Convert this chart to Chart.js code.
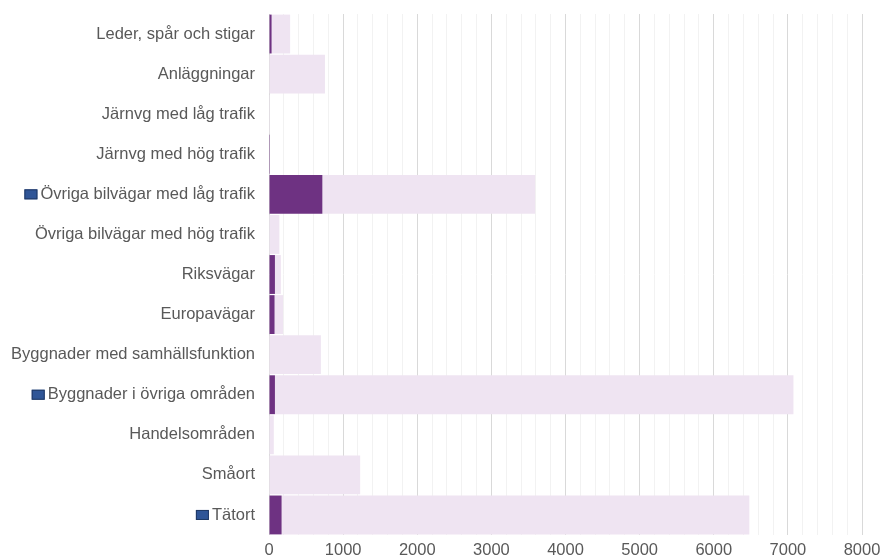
<!DOCTYPE html>
<html>
<head>
<meta charset="utf-8">
<script src="https://cdn.jsdelivr.net/npm/chart.js@4"></script>
<style>
  html, body { margin: 0; padding: 0; background: #ffffff; }
  #ram { width: 882px; height: 560px; }
</style>
</head>
<body>
<div id="ram"><canvas id="graf"></canvas></div>
<script>
const kategorier = [
  'Leder, spår och stigar',
  'Anläggningar',
  'Järnvg med låg trafik',
  'Järnvg med hög trafik',
  'Övriga bilvägar med låg trafik',
  'Övriga bilvägar med hög trafik',
  'Riksvägar',
  'Europavägar',
  'Byggnader med samhällsfunktion',
  'Byggnader i övriga områden',
  'Handelsområden',
  'Småort',
  'Tätort'
];
const morkSerie = [35, 0, 0, 12, 720, 0, 80, 75, 0, 80, 0, 0, 170];
const ljusSerie = [250, 755, 12, 0, 2870, 140, 80, 115, 700, 6995, 65, 1230, 6310];
const markerade = ['Övriga bilvägar med låg trafik', 'Byggnader i övriga områden', 'Tätort'];
const xTicks = [0, 1000, 2000, 3000, 4000, 5000, 6000, 7000, 8000];

const corTexto = '#595959';
const fonte = { family: 'Liberation Sans, Arial, sans-serif', size: 16.5 };

const markorer = {
  id: 'markorer',
  afterDraw(chart) {
    const y = chart.scales.y;
    const c = chart.ctx;
    c.save();
    c.font = `${fonte.size}px ${fonte.family}`;
    kategorier.forEach((namn, i) => {
      if (!markerade.includes(namn)) return;
      const hoger = y.right - y.options.ticks.padding;
      const w = c.measureText(namn).width;
      const yc = y.getPixelForValue(i);
      const x0 = hoger - w - 16;
      c.fillStyle = '#2F5597';
      c.strokeStyle = '#1F3864';
      c.lineWidth = 1;
      c.fillRect(x0, yc - 5, 13, 10);
      c.strokeRect(x0 + 0.5, yc - 4.5, 12, 9);
    });
    c.restore();
  }
};

new Chart(document.getElementById('graf').getContext('2d'), {
  type: 'bar',
  data: {
    labels: kategorier,
    datasets: [{
      label: 'Serie 1',
      data: morkSerie,
      backgroundColor: '#6E3282',
      borderWidth: 0,
      categoryPercentage: 1,
      barPercentage: 0.97
    }, {
      label: 'Serie 2',
      data: ljusSerie,
      backgroundColor: '#EFE4F2',
      borderWidth: 0,
      categoryPercentage: 1,
      barPercentage: 0.97
    }]
  },
  options: {
    indexAxis: 'y',
    responsive: true,
    maintainAspectRatio: false,
    animation: false,
    layout: {
      padding: { top: 14, right: 20, bottom: 0, left: 0 }
    },
    scales: {
      x: {
        stacked: true,
        min: 0,
        max: 8000,
        afterBuildTicks: scale => {
          const t = [];
          for (let v = 0; v <= 8000; v += 200) t.push({ value: v });
          scale.ticks = t;
        },
        afterFit: scale => {
          scale.height = 25;
          scale.paddingLeft = 0;
          scale.paddingRight = 0;
        },
        ticks: {
          autoSkip: false,
          maxRotation: 0,
          color: corTexto,
          font: fonte,
          padding: 6,
          callback: v => xTicks.includes(v) ? String(v) : ''
        },
        grid: {
          drawTicks: false,
          color: ctx => (ctx.tick && ctx.tick.value % 1000 === 0) ? '#D9D9D9' : '#F2F2F2',
          lineWidth: 1
        },
        border: { display: false }
      },
      y: {
        stacked: true,
        afterFit: scale => {
          scale.width = 269;
          scale.paddingTop = 0;
          scale.paddingBottom = 0;
        },
        ticks: {
          color: corTexto,
          font: fonte,
          padding: 14,
          autoSkip: false
        },
        grid: { display: false, drawTicks: false },
        border: { display: false }
      }
    },
    plugins: {
      legend: { display: false },
      tooltip: { enabled: false }
    }
  },
  plugins: [markorer]
});
</script>
</body>
</html>
